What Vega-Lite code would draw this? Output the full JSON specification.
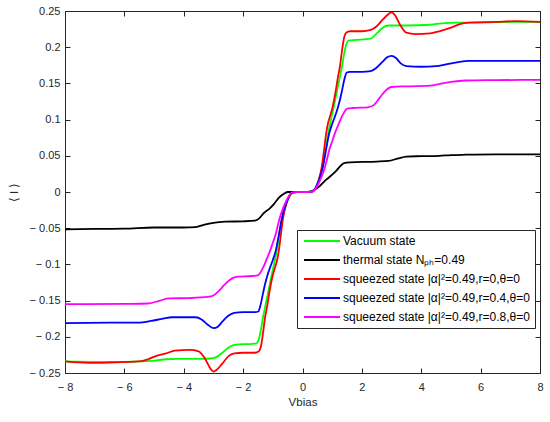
{
"$schema": "https://vega.github.io/schema/vega-lite/v6.json",
"width": 475, "height": 362,
"autosize": {"type": "none"},
"padding": {"left": 65, "top": 11, "right": 10, "bottom": 49},
"background": "white",
"config": {
  "font": "Liberation Sans",
  "view": {"stroke": "#262626", "strokeWidth": 1},
  "axis": {"zindex": 1, "grid": false, "domain": false, "ticks": true, "tickOpacity": 1, "tickColor": "#262626", "tickWidth": 1, "tickSize": 5, "offset": -5, "labelFlush": false, "labelColor": "#262626", "labelFontSize": 11, "titleColor": "#262626", "titleFontSize": 11.5, "titleFontWeight": "normal"}
},
"data": {"values": [
{"s":"Vacuum state","V":-8,"I":-0.234},{"s":"Vacuum state","V":-7,"I":-0.2345},{"s":"Vacuum state","V":-6,"I":-0.2345},{"s":"Vacuum state","V":-5.5,"I":-0.234},{"s":"Vacuum state","V":-5,"I":-0.233},{"s":"Vacuum state","V":-4.6,"I":-0.231},{"s":"Vacuum state","V":-4.2,"I":-0.2305},{"s":"Vacuum state","V":-3.5,"I":-0.2305},{"s":"Vacuum state","V":-3.1,"I":-0.23},{"s":"Vacuum state","V":-2.9,"I":-0.228},{"s":"Vacuum state","V":-2.7,"I":-0.222},{"s":"Vacuum state","V":-2.5,"I":-0.215},{"s":"Vacuum state","V":-2.3,"I":-0.211},{"s":"Vacuum state","V":-2,"I":-0.21},{"s":"Vacuum state","V":-1.8,"I":-0.21},{"s":"Vacuum state","V":-1.55,"I":-0.209},{"s":"Vacuum state","V":-1.47,"I":-0.203},{"s":"Vacuum state","V":-1.4,"I":-0.19},{"s":"Vacuum state","V":-1.33,"I":-0.173},{"s":"Vacuum state","V":-1.25,"I":-0.157},{"s":"Vacuum state","V":-1.15,"I":-0.137},{"s":"Vacuum state","V":-1.05,"I":-0.117},{"s":"Vacuum state","V":-0.95,"I":-0.098},{"s":"Vacuum state","V":-0.85,"I":-0.077},{"s":"Vacuum state","V":-0.75,"I":-0.05},{"s":"Vacuum state","V":-0.65,"I":-0.031},{"s":"Vacuum state","V":-0.55,"I":-0.017},{"s":"Vacuum state","V":-0.45,"I":-0.007},{"s":"Vacuum state","V":-0.35,"I":-0.002},{"s":"Vacuum state","V":-0.2,"I":0},
{"s":"Vacuum state","V":0,"I":0},{"s":"Vacuum state","V":0.2,"I":0},{"s":"Vacuum state","V":0.35,"I":0.002},{"s":"Vacuum state","V":0.45,"I":0.007},{"s":"Vacuum state","V":0.55,"I":0.017},{"s":"Vacuum state","V":0.65,"I":0.031},{"s":"Vacuum state","V":0.75,"I":0.05},{"s":"Vacuum state","V":0.85,"I":0.077},{"s":"Vacuum state","V":0.95,"I":0.098},{"s":"Vacuum state","V":1.05,"I":0.117},{"s":"Vacuum state","V":1.15,"I":0.137},{"s":"Vacuum state","V":1.25,"I":0.157},{"s":"Vacuum state","V":1.33,"I":0.173},{"s":"Vacuum state","V":1.4,"I":0.19},{"s":"Vacuum state","V":1.47,"I":0.203},{"s":"Vacuum state","V":1.55,"I":0.209},{"s":"Vacuum state","V":1.8,"I":0.21},{"s":"Vacuum state","V":2.3,"I":0.212},{"s":"Vacuum state","V":2.5,"I":0.219},{"s":"Vacuum state","V":2.7,"I":0.227},{"s":"Vacuum state","V":2.9,"I":0.23},{"s":"Vacuum state","V":3.5,"I":0.23},{"s":"Vacuum state","V":4.3,"I":0.231},{"s":"Vacuum state","V":4.7,"I":0.233},{"s":"Vacuum state","V":5.1,"I":0.234},{"s":"Vacuum state","V":6,"I":0.234},{"s":"Vacuum state","V":7,"I":0.235},{"s":"Vacuum state","V":8,"I":0.235},
{"s":"thermal state Nₚₕ=0.49","V":-8,"I":-0.0516},{"s":"thermal state Nₚₕ=0.49","V":-7,"I":-0.051},{"s":"thermal state Nₚₕ=0.49","V":-6,"I":-0.0506},{"s":"thermal state Nₚₕ=0.49","V":-5,"I":-0.049},{"s":"thermal state Nₚₕ=0.49","V":-4,"I":-0.049},{"s":"thermal state Nₚₕ=0.49","V":-3.6,"I":-0.0485},{"s":"thermal state Nₚₕ=0.49","V":-3.3,"I":-0.045},{"s":"thermal state Nₚₕ=0.49","V":-3.0,"I":-0.0425},{"s":"thermal state Nₚₕ=0.49","V":-2.6,"I":-0.041},{"s":"thermal state Nₚₕ=0.49","V":-2,"I":-0.0405},{"s":"thermal state Nₚₕ=0.49","V":-1.6,"I":-0.0395},{"s":"thermal state Nₚₕ=0.49","V":-1.45,"I":-0.036},{"s":"thermal state Nₚₕ=0.49","V":-1.3,"I":-0.029},{"s":"thermal state Nₚₕ=0.49","V":-1.1,"I":-0.0225},{"s":"thermal state Nₚₕ=0.49","V":-0.95,"I":-0.016},{"s":"thermal state Nₚₕ=0.49","V":-0.8,"I":-0.008},{"s":"thermal state Nₚₕ=0.49","V":-0.65,"I":-0.003},{"s":"thermal state Nₚₕ=0.49","V":-0.5,"I":0},{"s":"thermal state Nₚₕ=0.49","V":-0.3,"I":0},
{"s":"thermal state Nₚₕ=0.49","V":0,"I":0},{"s":"thermal state Nₚₕ=0.49","V":0.3,"I":0.001},{"s":"thermal state Nₚₕ=0.49","V":0.45,"I":0.004},{"s":"thermal state Nₚₕ=0.49","V":0.6,"I":0.009},{"s":"thermal state Nₚₕ=0.49","V":0.8,"I":0.017},{"s":"thermal state Nₚₕ=0.49","V":1.0,"I":0.024},{"s":"thermal state Nₚₕ=0.49","V":1.15,"I":0.03},{"s":"thermal state Nₚₕ=0.49","V":1.28,"I":0.036},{"s":"thermal state Nₚₕ=0.49","V":1.4,"I":0.04},{"s":"thermal state Nₚₕ=0.49","V":1.6,"I":0.041},{"s":"thermal state Nₚₕ=0.49","V":2.5,"I":0.042},{"s":"thermal state Nₚₕ=0.49","V":2.9,"I":0.043},{"s":"thermal state Nₚₕ=0.49","V":3.2,"I":0.046},{"s":"thermal state Nₚₕ=0.49","V":3.5,"I":0.049},{"s":"thermal state Nₚₕ=0.49","V":4,"I":0.0495},{"s":"thermal state Nₚₕ=0.49","V":4.6,"I":0.05},{"s":"thermal state Nₚₕ=0.49","V":5,"I":0.051},{"s":"thermal state Nₚₕ=0.49","V":5.5,"I":0.0515},{"s":"thermal state Nₚₕ=0.49","V":6.5,"I":0.052},{"s":"thermal state Nₚₕ=0.49","V":8,"I":0.052},
{"s":"squeezed state |α|²=0.49,r=0,θ=0","V":-8,"I":-0.234},{"s":"squeezed state |α|²=0.49,r=0,θ=0","V":-7.2,"I":-0.236},{"s":"squeezed state |α|²=0.49,r=0,θ=0","V":-6.5,"I":-0.2355},{"s":"squeezed state |α|²=0.49,r=0,θ=0","V":-5.5,"I":-0.234},{"s":"squeezed state |α|²=0.49,r=0,θ=0","V":-5.2,"I":-0.231},{"s":"squeezed state |α|²=0.49,r=0,θ=0","V":-4.9,"I":-0.226},{"s":"squeezed state |α|²=0.49,r=0,θ=0","V":-4.6,"I":-0.223},{"s":"squeezed state |α|²=0.49,r=0,θ=0","V":-4.3,"I":-0.219},{"s":"squeezed state |α|²=0.49,r=0,θ=0","V":-3.8,"I":-0.218},{"s":"squeezed state |α|²=0.49,r=0,θ=0","V":-3.5,"I":-0.22},{"s":"squeezed state |α|²=0.49,r=0,θ=0","V":-3.3,"I":-0.229},{"s":"squeezed state |α|²=0.49,r=0,θ=0","V":-3.1,"I":-0.244},{"s":"squeezed state |α|²=0.49,r=0,θ=0","V":-3.0,"I":-0.248},{"s":"squeezed state |α|²=0.49,r=0,θ=0","V":-2.9,"I":-0.246},{"s":"squeezed state |α|²=0.49,r=0,θ=0","V":-2.7,"I":-0.237},{"s":"squeezed state |α|²=0.49,r=0,θ=0","V":-2.5,"I":-0.227},{"s":"squeezed state |α|²=0.49,r=0,θ=0","V":-2.3,"I":-0.223},{"s":"squeezed state |α|²=0.49,r=0,θ=0","V":-2,"I":-0.222},{"s":"squeezed state |α|²=0.49,r=0,θ=0","V":-1.6,"I":-0.222},{"s":"squeezed state |α|²=0.49,r=0,θ=0","V":-1.47,"I":-0.22},{"s":"squeezed state |α|²=0.49,r=0,θ=0","V":-1.4,"I":-0.213},{"s":"squeezed state |α|²=0.49,r=0,θ=0","V":-1.33,"I":-0.195},{"s":"squeezed state |α|²=0.49,r=0,θ=0","V":-1.26,"I":-0.173},{"s":"squeezed state |α|²=0.49,r=0,θ=0","V":-1.2,"I":-0.16},{"s":"squeezed state |α|²=0.49,r=0,θ=0","V":-1.1,"I":-0.135},{"s":"squeezed state |α|²=0.49,r=0,θ=0","V":-1.0,"I":-0.115},{"s":"squeezed state |α|²=0.49,r=0,θ=0","V":-0.93,"I":-0.105},{"s":"squeezed state |α|²=0.49,r=0,θ=0","V":-0.86,"I":-0.095},{"s":"squeezed state |α|²=0.49,r=0,θ=0","V":-0.79,"I":-0.079},{"s":"squeezed state |α|²=0.49,r=0,θ=0","V":-0.72,"I":-0.056},{"s":"squeezed state |α|²=0.49,r=0,θ=0","V":-0.65,"I":-0.035},{"s":"squeezed state |α|²=0.49,r=0,θ=0","V":-0.55,"I":-0.017},{"s":"squeezed state |α|²=0.49,r=0,θ=0","V":-0.45,"I":-0.006},{"s":"squeezed state |α|²=0.49,r=0,θ=0","V":-0.35,"I":-0.001},{"s":"squeezed state |α|²=0.49,r=0,θ=0","V":-0.2,"I":0},
{"s":"squeezed state |α|²=0.49,r=0,θ=0","V":0,"I":0},{"s":"squeezed state |α|²=0.49,r=0,θ=0","V":0.2,"I":0},{"s":"squeezed state |α|²=0.49,r=0,θ=0","V":0.35,"I":0.001},{"s":"squeezed state |α|²=0.49,r=0,θ=0","V":0.45,"I":0.006},{"s":"squeezed state |α|²=0.49,r=0,θ=0","V":0.55,"I":0.017},{"s":"squeezed state |α|²=0.49,r=0,θ=0","V":0.65,"I":0.035},{"s":"squeezed state |α|²=0.49,r=0,θ=0","V":0.72,"I":0.056},{"s":"squeezed state |α|²=0.49,r=0,θ=0","V":0.79,"I":0.079},{"s":"squeezed state |α|²=0.49,r=0,θ=0","V":0.86,"I":0.095},{"s":"squeezed state |α|²=0.49,r=0,θ=0","V":0.93,"I":0.105},{"s":"squeezed state |α|²=0.49,r=0,θ=0","V":1.0,"I":0.115},{"s":"squeezed state |α|²=0.49,r=0,θ=0","V":1.1,"I":0.135},{"s":"squeezed state |α|²=0.49,r=0,θ=0","V":1.2,"I":0.16},{"s":"squeezed state |α|²=0.49,r=0,θ=0","V":1.26,"I":0.173},{"s":"squeezed state |α|²=0.49,r=0,θ=0","V":1.33,"I":0.195},{"s":"squeezed state |α|²=0.49,r=0,θ=0","V":1.4,"I":0.213},{"s":"squeezed state |α|²=0.49,r=0,θ=0","V":1.47,"I":0.22},{"s":"squeezed state |α|²=0.49,r=0,θ=0","V":1.6,"I":0.222},{"s":"squeezed state |α|²=0.49,r=0,θ=0","V":2,"I":0.222},{"s":"squeezed state |α|²=0.49,r=0,θ=0","V":2.3,"I":0.224},{"s":"squeezed state |α|²=0.49,r=0,θ=0","V":2.5,"I":0.229},{"s":"squeezed state |α|²=0.49,r=0,θ=0","V":2.7,"I":0.238},{"s":"squeezed state |α|²=0.49,r=0,θ=0","V":2.9,"I":0.246},{"s":"squeezed state |α|²=0.49,r=0,θ=0","V":3.0,"I":0.248},{"s":"squeezed state |α|²=0.49,r=0,θ=0","V":3.1,"I":0.245},{"s":"squeezed state |α|²=0.49,r=0,θ=0","V":3.3,"I":0.23},{"s":"squeezed state |α|²=0.49,r=0,θ=0","V":3.5,"I":0.22},{"s":"squeezed state |α|²=0.49,r=0,θ=0","V":3.8,"I":0.218},{"s":"squeezed state |α|²=0.49,r=0,θ=0","V":4.3,"I":0.219},{"s":"squeezed state |α|²=0.49,r=0,θ=0","V":4.6,"I":0.222},{"s":"squeezed state |α|²=0.49,r=0,θ=0","V":5.0,"I":0.227},{"s":"squeezed state |α|²=0.49,r=0,θ=0","V":5.3,"I":0.232},{"s":"squeezed state |α|²=0.49,r=0,θ=0","V":5.6,"I":0.234},{"s":"squeezed state |α|²=0.49,r=0,θ=0","V":6.5,"I":0.235},{"s":"squeezed state |α|²=0.49,r=0,θ=0","V":7.2,"I":0.236},{"s":"squeezed state |α|²=0.49,r=0,θ=0","V":8,"I":0.235},
{"s":"squeezed state |α|²=0.49,r=0.4,θ=0","V":-8,"I":-0.181},{"s":"squeezed state |α|²=0.49,r=0.4,θ=0","V":-6,"I":-0.1805},{"s":"squeezed state |α|²=0.49,r=0.4,θ=0","V":-5.5,"I":-0.1805},{"s":"squeezed state |α|²=0.49,r=0.4,θ=0","V":-5.1,"I":-0.178},{"s":"squeezed state |α|²=0.49,r=0.4,θ=0","V":-4.7,"I":-0.175},{"s":"squeezed state |α|²=0.49,r=0.4,θ=0","V":-4.4,"I":-0.173},{"s":"squeezed state |α|²=0.49,r=0.4,θ=0","V":-3.6,"I":-0.173},{"s":"squeezed state |α|²=0.49,r=0.4,θ=0","V":-3.4,"I":-0.176},{"s":"squeezed state |α|²=0.49,r=0.4,θ=0","V":-3.2,"I":-0.183},{"s":"squeezed state |α|²=0.49,r=0.4,θ=0","V":-3.0,"I":-0.188},{"s":"squeezed state |α|²=0.49,r=0.4,θ=0","V":-2.85,"I":-0.186},{"s":"squeezed state |α|²=0.49,r=0.4,θ=0","V":-2.7,"I":-0.179},{"s":"squeezed state |α|²=0.49,r=0.4,θ=0","V":-2.5,"I":-0.171},{"s":"squeezed state |α|²=0.49,r=0.4,θ=0","V":-2.3,"I":-0.167},{"s":"squeezed state |α|²=0.49,r=0.4,θ=0","V":-2,"I":-0.166},{"s":"squeezed state |α|²=0.49,r=0.4,θ=0","V":-1.6,"I":-0.166},{"s":"squeezed state |α|²=0.49,r=0.4,θ=0","V":-1.49,"I":-0.165},{"s":"squeezed state |α|²=0.49,r=0.4,θ=0","V":-1.42,"I":-0.157},{"s":"squeezed state |α|²=0.49,r=0.4,θ=0","V":-1.33,"I":-0.14},{"s":"squeezed state |α|²=0.49,r=0.4,θ=0","V":-1.26,"I":-0.127},{"s":"squeezed state |α|²=0.49,r=0.4,θ=0","V":-1.18,"I":-0.115},{"s":"squeezed state |α|²=0.49,r=0.4,θ=0","V":-1.09,"I":-0.104},{"s":"squeezed state |α|²=0.49,r=0.4,θ=0","V":-1.0,"I":-0.094},{"s":"squeezed state |α|²=0.49,r=0.4,θ=0","V":-0.9,"I":-0.081},{"s":"squeezed state |α|²=0.49,r=0.4,θ=0","V":-0.8,"I":-0.06},{"s":"squeezed state |α|²=0.49,r=0.4,θ=0","V":-0.69,"I":-0.035},{"s":"squeezed state |α|²=0.49,r=0.4,θ=0","V":-0.55,"I":-0.016},{"s":"squeezed state |α|²=0.49,r=0.4,θ=0","V":-0.45,"I":-0.006},{"s":"squeezed state |α|²=0.49,r=0.4,θ=0","V":-0.35,"I":-0.001},{"s":"squeezed state |α|²=0.49,r=0.4,θ=0","V":-0.2,"I":0},
{"s":"squeezed state |α|²=0.49,r=0.4,θ=0","V":0,"I":0},{"s":"squeezed state |α|²=0.49,r=0.4,θ=0","V":0.2,"I":0},{"s":"squeezed state |α|²=0.49,r=0.4,θ=0","V":0.35,"I":0.001},{"s":"squeezed state |α|²=0.49,r=0.4,θ=0","V":0.45,"I":0.006},{"s":"squeezed state |α|²=0.49,r=0.4,θ=0","V":0.55,"I":0.016},{"s":"squeezed state |α|²=0.49,r=0.4,θ=0","V":0.69,"I":0.035},{"s":"squeezed state |α|²=0.49,r=0.4,θ=0","V":0.8,"I":0.06},{"s":"squeezed state |α|²=0.49,r=0.4,θ=0","V":0.9,"I":0.081},{"s":"squeezed state |α|²=0.49,r=0.4,θ=0","V":1.0,"I":0.094},{"s":"squeezed state |α|²=0.49,r=0.4,θ=0","V":1.09,"I":0.104},{"s":"squeezed state |α|²=0.49,r=0.4,θ=0","V":1.18,"I":0.115},{"s":"squeezed state |α|²=0.49,r=0.4,θ=0","V":1.26,"I":0.127},{"s":"squeezed state |α|²=0.49,r=0.4,θ=0","V":1.33,"I":0.14},{"s":"squeezed state |α|²=0.49,r=0.4,θ=0","V":1.42,"I":0.157},{"s":"squeezed state |α|²=0.49,r=0.4,θ=0","V":1.49,"I":0.165},{"s":"squeezed state |α|²=0.49,r=0.4,θ=0","V":1.6,"I":0.166},{"s":"squeezed state |α|²=0.49,r=0.4,θ=0","V":2,"I":0.166},{"s":"squeezed state |α|²=0.49,r=0.4,θ=0","V":2.3,"I":0.167},{"s":"squeezed state |α|²=0.49,r=0.4,θ=0","V":2.5,"I":0.172},{"s":"squeezed state |α|²=0.49,r=0.4,θ=0","V":2.7,"I":0.18},{"s":"squeezed state |α|²=0.49,r=0.4,θ=0","V":2.85,"I":0.186},{"s":"squeezed state |α|²=0.49,r=0.4,θ=0","V":3.0,"I":0.188},{"s":"squeezed state |α|²=0.49,r=0.4,θ=0","V":3.15,"I":0.185},{"s":"squeezed state |α|²=0.49,r=0.4,θ=0","V":3.3,"I":0.178},{"s":"squeezed state |α|²=0.49,r=0.4,θ=0","V":3.5,"I":0.174},{"s":"squeezed state |α|²=0.49,r=0.4,θ=0","V":4,"I":0.173},{"s":"squeezed state |α|²=0.49,r=0.4,θ=0","V":4.5,"I":0.174},{"s":"squeezed state |α|²=0.49,r=0.4,θ=0","V":4.8,"I":0.176},{"s":"squeezed state |α|²=0.49,r=0.4,θ=0","V":5.2,"I":0.179},{"s":"squeezed state |α|²=0.49,r=0.4,θ=0","V":5.6,"I":0.181},{"s":"squeezed state |α|²=0.49,r=0.4,θ=0","V":6.5,"I":0.181},{"s":"squeezed state |α|²=0.49,r=0.4,θ=0","V":8,"I":0.181},
{"s":"squeezed state |α|²=0.49,r=0.8,θ=0","V":-8,"I":-0.155},{"s":"squeezed state |α|²=0.49,r=0.8,θ=0","V":-6,"I":-0.1545},{"s":"squeezed state |α|²=0.49,r=0.8,θ=0","V":-5.2,"I":-0.154},{"s":"squeezed state |α|²=0.49,r=0.8,θ=0","V":-4.8,"I":-0.15},{"s":"squeezed state |α|²=0.49,r=0.8,θ=0","V":-4.5,"I":-0.147},{"s":"squeezed state |α|²=0.49,r=0.8,θ=0","V":-3.8,"I":-0.1465},{"s":"squeezed state |α|²=0.49,r=0.8,θ=0","V":-3.2,"I":-0.145},{"s":"squeezed state |α|²=0.49,r=0.8,θ=0","V":-3.0,"I":-0.143},{"s":"squeezed state |α|²=0.49,r=0.8,θ=0","V":-2.8,"I":-0.136},{"s":"squeezed state |α|²=0.49,r=0.8,θ=0","V":-2.6,"I":-0.127},{"s":"squeezed state |α|²=0.49,r=0.8,θ=0","V":-2.4,"I":-0.12},{"s":"squeezed state |α|²=0.49,r=0.8,θ=0","V":-2.2,"I":-0.117},{"s":"squeezed state |α|²=0.49,r=0.8,θ=0","V":-1.7,"I":-0.116},{"s":"squeezed state |α|²=0.49,r=0.8,θ=0","V":-1.5,"I":-0.115},{"s":"squeezed state |α|²=0.49,r=0.8,θ=0","V":-1.4,"I":-0.11},{"s":"squeezed state |α|²=0.49,r=0.8,θ=0","V":-1.3,"I":-0.102},{"s":"squeezed state |α|²=0.49,r=0.8,θ=0","V":-1.2,"I":-0.092},{"s":"squeezed state |α|²=0.49,r=0.8,θ=0","V":-1.09,"I":-0.081},{"s":"squeezed state |α|²=0.49,r=0.8,θ=0","V":-1.0,"I":-0.07},{"s":"squeezed state |α|²=0.49,r=0.8,θ=0","V":-0.9,"I":-0.058},{"s":"squeezed state |α|²=0.49,r=0.8,θ=0","V":-0.83,"I":-0.046},{"s":"squeezed state |α|²=0.49,r=0.8,θ=0","V":-0.76,"I":-0.035},{"s":"squeezed state |α|²=0.49,r=0.8,θ=0","V":-0.68,"I":-0.025},{"s":"squeezed state |α|²=0.49,r=0.8,θ=0","V":-0.6,"I":-0.017},{"s":"squeezed state |α|²=0.49,r=0.8,θ=0","V":-0.52,"I":-0.01},{"s":"squeezed state |α|²=0.49,r=0.8,θ=0","V":-0.45,"I":-0.005},{"s":"squeezed state |α|²=0.49,r=0.8,θ=0","V":-0.35,"I":-0.001},{"s":"squeezed state |α|²=0.49,r=0.8,θ=0","V":-0.2,"I":0},
{"s":"squeezed state |α|²=0.49,r=0.8,θ=0","V":0,"I":0},{"s":"squeezed state |α|²=0.49,r=0.8,θ=0","V":0.2,"I":0},{"s":"squeezed state |α|²=0.49,r=0.8,θ=0","V":0.35,"I":0.001},{"s":"squeezed state |α|²=0.49,r=0.8,θ=0","V":0.45,"I":0.005},{"s":"squeezed state |α|²=0.49,r=0.8,θ=0","V":0.52,"I":0.01},{"s":"squeezed state |α|²=0.49,r=0.8,θ=0","V":0.6,"I":0.017},{"s":"squeezed state |α|²=0.49,r=0.8,θ=0","V":0.68,"I":0.025},{"s":"squeezed state |α|²=0.49,r=0.8,θ=0","V":0.76,"I":0.035},{"s":"squeezed state |α|²=0.49,r=0.8,θ=0","V":0.83,"I":0.046},{"s":"squeezed state |α|²=0.49,r=0.8,θ=0","V":0.9,"I":0.058},{"s":"squeezed state |α|²=0.49,r=0.8,θ=0","V":1.0,"I":0.07},{"s":"squeezed state |α|²=0.49,r=0.8,θ=0","V":1.09,"I":0.081},{"s":"squeezed state |α|²=0.49,r=0.8,θ=0","V":1.2,"I":0.092},{"s":"squeezed state |α|²=0.49,r=0.8,θ=0","V":1.3,"I":0.102},{"s":"squeezed state |α|²=0.49,r=0.8,θ=0","V":1.4,"I":0.11},{"s":"squeezed state |α|²=0.49,r=0.8,θ=0","V":1.5,"I":0.115},{"s":"squeezed state |α|²=0.49,r=0.8,θ=0","V":1.7,"I":0.116},{"s":"squeezed state |α|²=0.49,r=0.8,θ=0","V":2.2,"I":0.117},{"s":"squeezed state |α|²=0.49,r=0.8,θ=0","V":2.4,"I":0.12},{"s":"squeezed state |α|²=0.49,r=0.8,θ=0","V":2.6,"I":0.13},{"s":"squeezed state |α|²=0.49,r=0.8,θ=0","V":2.8,"I":0.14},{"s":"squeezed state |α|²=0.49,r=0.8,θ=0","V":3.0,"I":0.145},{"s":"squeezed state |α|²=0.49,r=0.8,θ=0","V":3.5,"I":0.146},{"s":"squeezed state |α|²=0.49,r=0.8,θ=0","V":4.3,"I":0.147},{"s":"squeezed state |α|²=0.49,r=0.8,θ=0","V":4.6,"I":0.149},{"s":"squeezed state |α|²=0.49,r=0.8,θ=0","V":5.0,"I":0.152},{"s":"squeezed state |α|²=0.49,r=0.8,θ=0","V":5.5,"I":0.154},{"s":"squeezed state |α|²=0.49,r=0.8,θ=0","V":6.5,"I":0.1545},{"s":"squeezed state |α|²=0.49,r=0.8,θ=0","V":8,"I":0.155}
]},
"layer": [
 {
  "mark": {"type": "line", "strokeWidth": 1.8, "interpolate": "monotone", "clip": true},
  "encoding": {
   "x": {"field": "V", "type": "quantitative", "scale": {"domain": [-8, 8], "nice": false},
         "axis": {"values": [-8,-6,-4,-2,0,2,4,6,8], "title": "Vbias", "labelPadding": 8, "titlePadding": 4, "labelExpr": "replace(datum.label, '−', '− ')"}},
   "y": {"field": "I", "type": "quantitative", "scale": {"domain": [-0.25, 0.25], "nice": false},
         "axis": {"values": [-0.25,-0.2,-0.15,-0.1,-0.05,0,0.05,0.1,0.15,0.2,0.25], "format": "~g", "title": "⟨ I ⟩", "labelPadding": 5, "titlePadding": 10, "labelExpr": "replace(datum.label, '−', '− ')"}},
   "color": {"field": "s", "type": "nominal",
     "scale": {"domain": ["Vacuum state", "thermal state Nₚₕ=0.49", "squeezed state |α|²=0.49,r=0,θ=0", "squeezed state |α|²=0.49,r=0.4,θ=0", "squeezed state |α|²=0.49,r=0.8,θ=0"],
               "range": ["#00ff00", "#000000", "#ff0000", "#0000ff", "#ff00ff"]},
     "legend": {"orient": "none", "legendX": 232, "legendY": 219, "title": null, "strokeColor": "#262626", "fillColor": "white", "padding": 5, "symbolType": "M-1,0H8", "symbolSize": 64, "symbolStrokeWidth": 2, "labelFontSize": 12, "labelColor": "black", "rowPadding": 7, "labelOffset": 29, "labelLimit": 300}}
  }
 },
 {
  "mark": {"type": "line", "opacity": 0},
  "encoding": {
   "x": {"field": "V", "type": "quantitative", "axis": {"orient": "top", "values": [-8,-6,-4,-2,0,2,4,6,8], "labels": false, "title": null}},
   "y": {"field": "I", "type": "quantitative", "axis": {"orient": "right", "values": [-0.25,-0.2,-0.15,-0.1,-0.05,0,0.05,0.1,0.15,0.2,0.25], "labels": false, "title": null}},
   "detail": {"field": "s", "type": "nominal"}
  }
 }
],
"resolve": {"axis": {"x": "independent", "y": "independent"}}
}
